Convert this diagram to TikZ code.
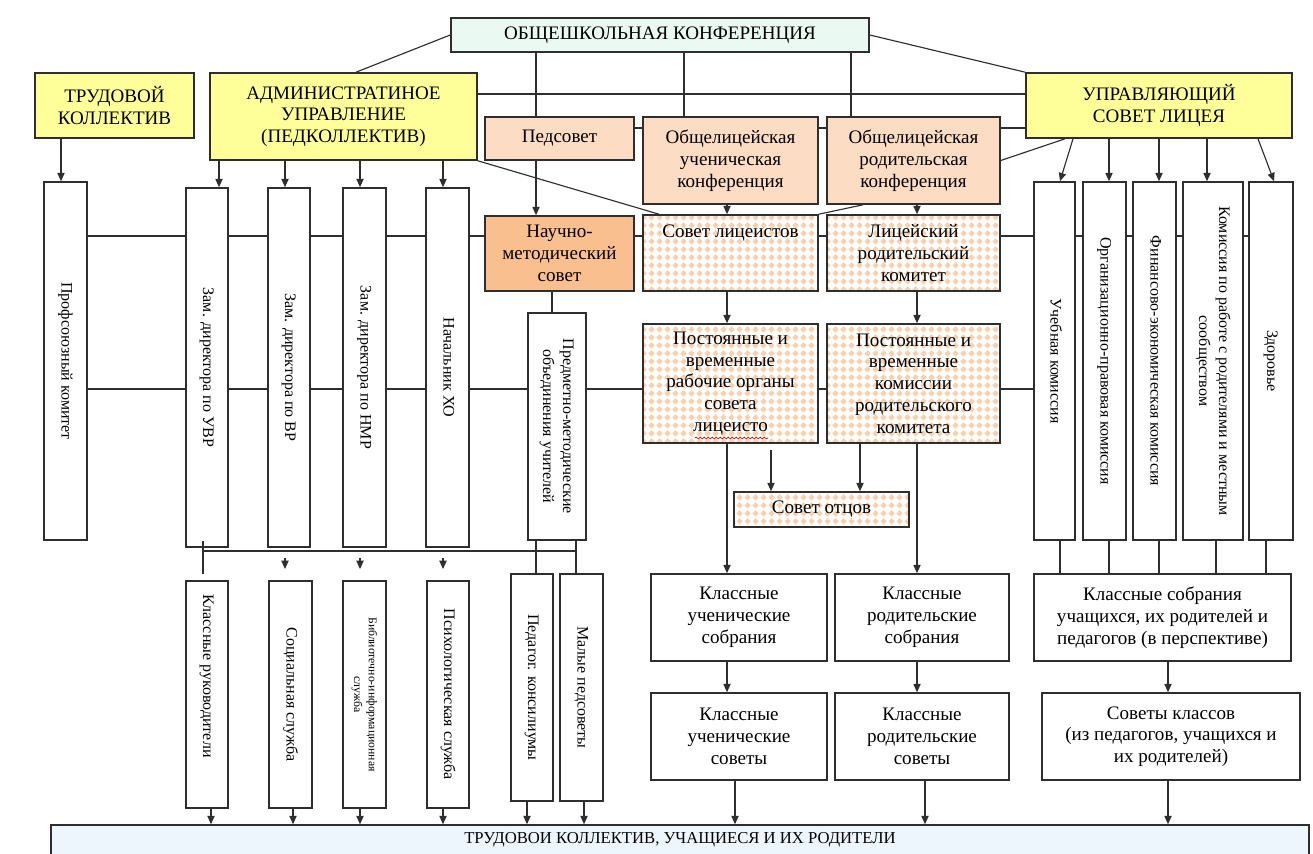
\documentclass[tikz,border=0pt]{standalone}
\usepackage{fontspec}
\setmainfont{Liberation Serif}
\usetikzlibrary{arrows.meta,patterns,decorations.pathmorphing}
\definecolor{yel}{HTML}{FFFF99}
\definecolor{peach}{HTML}{FCDCC2}
\definecolor{orng}{HTML}{FABF8F}
\definecolor{mint}{HTML}{EAFAF2}
\definecolor{peachd}{HTML}{FAD0AC}
\definecolor{lblue}{HTML}{EEF6FD}
\definecolor{linec}{HTML}{2E2E2E}
\pgfdeclarepatternformonly{diam}{\pgfqpoint{0pt}{0pt}}{\pgfqpoint{6pt}{6pt}}{\pgfqpoint{6pt}{6pt}}{%
 \pgfpathmoveto{\pgfqpoint{3pt}{0.35pt}}\pgfpathlineto{\pgfqpoint{5.65pt}{3pt}}%
 \pgfpathlineto{\pgfqpoint{3pt}{5.65pt}}\pgfpathlineto{\pgfqpoint{0.35pt}{3pt}}%
 \pgfpathclose\pgfusepath{fill}}
\newcommand\hsz{\fontsize{14.3}{16.3}\selectfont}
\newcommand\vsz{\fontsize{12}{15}\selectfont}
\newcommand\ssz{\fontsize{8.8}{11}\selectfont}
\newcommand\bsz{\fontsize{12.5}{14}\selectfont}
\newcommand\vt[1]{\rotatebox{-90}{\begin{tabular}{@{}c@{}}#1\end{tabular}}}
\newcommand\bx[7][]{%
 \pgfmathsetmacro\bxw{(#5-#3)*0.75}%
 \pgfmathsetmacro\bxh{(#6-#4)*0.75}%
 \node[bx,#1,minimum width=\bxw pt,minimum height=\bxh pt] (#2) at ({(#3+#5)/2},{(#4+#6)/2}) {#7};}
\begin{document}
\begin{tikzpicture}[x=0.75pt,y=-0.75pt,
 bx/.style={draw=linec,line width=1.2pt,inner sep=0pt,align=center,font=\hsz},
 yelbox/.style={fill=yel},
 peachbox/.style={fill=peach},
 orbox/.style={fill=orng},
 patbox/.style={pattern=diam,pattern color=peachd},
 vbox/.style={font=\vsz},
 conn/.style={draw=linec,line width=0.85pt},
 arr/.style={conn,-{Triangle[length=6.2pt,width=5.4pt]}}]
\useasboundingbox (0,0) rectangle (1313,853);
\fill[white] (0,0) rectangle (1313,853);

% top level
\bx[fill=mint]{obsh}{451}{18}{869}{52}{ОБЩЕШКОЛЬНАЯ КОНФЕРЕНЦИЯ}
\bx[yelbox]{trud}{35}{73}{194}{138}{ТРУДОВОЙ\\КОЛЛЕКТИВ}
\bx[yelbox]{adm}{210}{73}{477}{160}{АДМИНИСТРАТИНОЕ\\УПРАВЛЕНИЕ\\(ПЕДКОЛЛЕКТИВ)}
\bx[yelbox]{upr}{1026}{73}{1292}{138}{УПРАВЛЯЮЩИЙ\\СОВЕТ ЛИЦЕЯ}
\bx[peachbox]{ped}{485}{117}{634}{160}{Педсовет}
\bx[peachbox]{obu}{643}{117}{818}{204}{Общелицейская\\ученическая\\конференция}
\bx[peachbox]{obr}{827}{117}{1000}{204}{Общелицейская\\родительская\\конференция}
\bx[orbox]{nauch}{485}{216}{634}{291}{Научно-\\методический\\совет}
\bx[patbox]{slic}{643}{215}{818}{291}{Совет лицеистов\\~\\~}
\bx[patbox]{lrk}{827}{215}{1000}{291}{Лицейский\\родительский\\комитет}
\bx[patbox]{post1}{643}{324}{818}{443}{Постоянные и\\временные\\рабочие органы\\совета\\лицеисто}
\bx[patbox]{post2}{827}{324}{1000}{443}{Постоянные и\\временные\\комиссии\\родительского\\комитета}
\bx[patbox]{otc}{734}{492}{909}{527}{Совет отцов}

% vertical boxes, upper row
\bx[vbox]{profs}{44}{182}{87}{540}{\vt{Профсоюзный комитет}}
\bx[vbox]{uvr}{186}{188}{228}{547}{\vt{Зам. директора по УВР}}
\bx[vbox]{vr}{268}{188}{310}{547}{\vt{Зам. директора по ВР}}
\bx[vbox]{nmr}{343}{188}{386}{547}{\vt{Зам. директора по НМР}}
\bx[vbox]{xo}{426}{188}{469}{547}{\vt{Начальник ХО}}
\bx[vbox]{pmo}{528}{313}{586}{540}{\vt{Предметно-методические\\объединения учителей}}
\bx[vbox]{ucheb}{1034}{182}{1075}{540}{\vt{Учебная комиссия}}
\bx[vbox]{org}{1083}{182}{1126}{540}{\vt{Организационно-правовая комиссия}}
\bx[vbox]{fin}{1133}{182}{1176}{540}{\vt{Финансово-экономическая комиссия}}
\bx[vbox]{kom}{1183}{182}{1243}{540}{\vt{Комиссия по работе с родителями и местным\\сообществом}}
\bx[vbox]{zdor}{1249}{182}{1293}{540}{\vt{Здоровье}}

% vertical boxes, lower row
\bx[vbox]{klruk}{186}{581}{228}{808}{\vt{Классные руководители\kern28pt}}
\bx[vbox]{soc}{269}{581}{312}{808}{\vt{Социальная служба}}
\bx[vbox,font=\ssz]{bib}{343}{581}{386}{808}{\vt{Библиотечно-информационная\\служба}}
\bx[vbox]{psy}{427}{581}{469}{808}{\vt{Психологическая служба}}
\bx[vbox]{pedk}{511}{574}{553}{801}{\vt{Педагог. консилиумы}}
\bx[vbox]{malp}{560}{574}{603}{801}{\vt{Малые педсоветы}}

% class level
\bx{kus}{651}{574}{827}{661}{Классные\\ученические\\собрания}
\bx{krs}{835}{574}{1009}{661}{Классные\\родительские\\собрания}
\bx{ksu}{1034}{574}{1291}{661}{Классные собрания\\учащихся, их родителей и\\педагогов (в перспективе)}
\bx{kusov}{651}{693}{827}{780}{Классные\\ученические\\советы}
\bx{krsov}{835}{693}{1009}{780}{Классные\\родительские\\советы}
\bx{sovk}{1042}{693}{1300}{780}{Советы классов\\(из педагогов, учащихся и\\их родителей)}
\bx[fill=lblue,font=\bsz]{bottom}{51}{825}{1309}{855}{ТРУДОВОИ КОЛЛЕКТИВ, УЧАЩИЕСЯ И ИХ РОДИТЕЛИ}

% spell-check squiggle
\draw[red!85!black,line width=0.5pt,decorate,decoration={snake,amplitude=0.7pt,segment length=3pt}] (695,438) -- (768,438);

% helper coordinates
\foreach \v in {61,203,211,219,285,293,356,360,443,527,536,552,576,584,659,684,727,735,771,851,860,863,917,925,1060,1065,1073,1109,1159,1168,1207,1216,1258,1266,1274}
 {\coordinate (k\v) at (\v,0);}
\foreach \v in {94,128,236,389,541,551,558,569,574}
 {\coordinate (h\v) at (0,\v);}

% connectors
\draw[conn] (obsh.west) -- (adm.north -| k356);
\draw[conn] (obsh.east) -- (upr.north west);
\foreach \c/\t in {536/ped,684/obu,851/obr} \draw[conn] (obsh.south -| k\c) -- (\t.north -| k\c);
\draw[conn] (adm.east |- h94) -- (upr.west |- h94);
\foreach \a/\b in {ped/obu,obu/obr,obr/upr} \draw[conn] (\a.east |- h128) -- (\b.west |- h128);
\draw[conn] (obr.east) -- (upr.south -| k1065);
\draw[conn] (adm.south east) -- (slic.north -| k659);
\draw[arr] (trud.south -| k61) -- (profs.north -| k61);
\foreach \c/\t in {219/uvr,285/vr,360/nmr,443/xo} \draw[arr] (adm.south -| k\c) -- (\t.north -| k\c);
\draw[arr] (upr.south -| k1073) -- (ucheb.north -| k1060);
\foreach \c/\t in {1109/org,1159/fin,1207/kom} \draw[arr] (upr.south -| k\c) -- (\t.north -| k\c);
\draw[arr] (upr.south -| k1258) -- (zdor.north -| k1274);
\draw[arr] (ped.south -| k536) -- (nauch.north -| k536);
\draw[arr] (obu.south -| k727) -- (slic.north -| k727);
\draw[arr] (obr.south -| k917) -- (lrk.north -| k917);
\draw[conn] (obr.south -| k863) -- (slic.north east);
\foreach \a/\b in {profs/uvr,uvr/vr,vr/nmr,nmr/xo,xo/nauch,nauch/slic,slic/lrk,lrk/ucheb,ucheb/org,org/fin,fin/kom,kom/zdor}
 \draw[conn] (\a.east |- h236) -- (\b.west |- h236);
\foreach \a/\b in {profs/uvr,uvr/vr,vr/nmr,nmr/xo,xo/pmo,pmo/post1,post1/post2,post2/ucheb}
 \draw[conn] (\a.east |- h389) -- (\b.west |- h389);
\draw[conn] (nauch.south -| k552) -- (pmo.north -| k552);
\draw[arr] (slic.south -| k727) -- (post1.north -| k727);
\draw[arr] (lrk.south -| k917) -- (post2.north -| k917);
\draw[arr] (post1.south -| k727) -- (kus.north -| k727);
\draw[arr] (post2.south -| k917) -- (krs.north -| k917);
\coordinate (fa) at (771,450);
\draw[arr] (fa) -- (otc.north -| fa);
\draw[arr] (post2.south -| k860) -- (otc.north -| k860);
\draw[arr] (kus.south -| k727) -- (kusov.north -| k727);
\draw[arr] (krs.south -| k917) -- (krsov.north -| k917);
\draw[arr] (ksu.south -| k1168) -- (sovk.north -| k1168);
\foreach \c/\s in {735/kusov,925/krsov,1168/sovk} \draw[arr] (\s.south -| k\c) -- (bottom.north -| k\c);
\foreach \c/\s in {1060/ucheb,1109/org,1159/fin,1216/kom,1266/zdor} \draw[conn] (\s.south -| k\c) -- (ksu.north -| k\c);
\draw[conn] (h541 -| k203) -- (h574 -| k203);
\draw[conn] (h551 -| k203) -- (h551 -| k576);
\draw[conn] (pmo.south -| k536) -- (pedk.north -| k536);
\draw[conn] (pmo.south -| k576) -- (malp.north -| k576);
\foreach \c in {285,360,443} \draw[arr] (h558 -| k\c) -- (h569 -| k\c);
\foreach \c/\s in {211/klruk,293/soc,360/bib,443/psy,527/pedk,584/malp} \draw[arr] (\s.south -| k\c) -- (bottom.north -| k\c);
\end{tikzpicture}
\end{document}
